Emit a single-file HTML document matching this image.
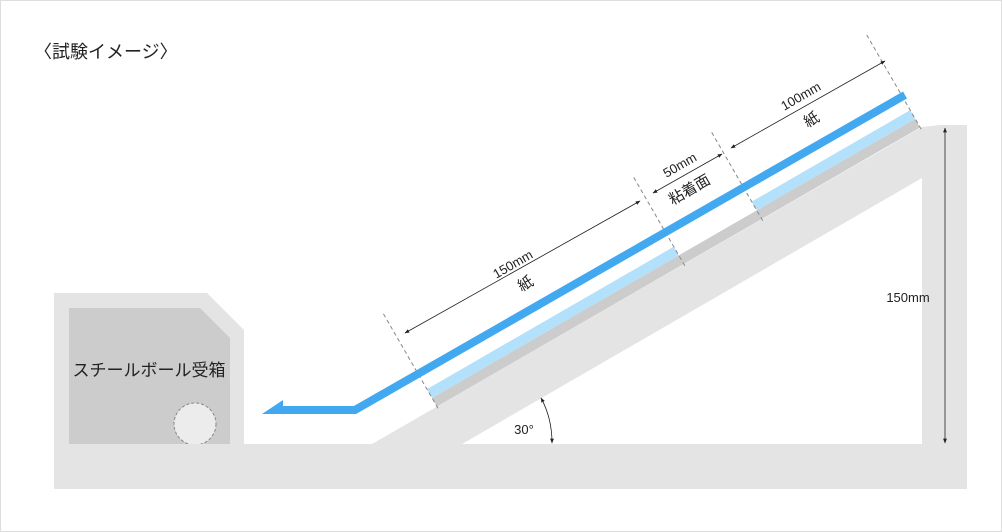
<!DOCTYPE html>
<html><head><meta charset="utf-8"><style>
html,body{margin:0;padding:0;background:#fff;}
svg{display:block;font-family:"Liberation Sans","Noto Sans CJK JP",sans-serif;}
</style></head><body>
<svg width="1002" height="532" viewBox="0 0 1002 532" xmlns="http://www.w3.org/2000/svg">
<defs>
<marker id="a" viewBox="0 0 10 10" refX="9" refY="5" markerWidth="6" markerHeight="6" orient="auto-start-reverse"><path d="M0,1 L10,5 L0,9 z" fill="#222"/></marker>
</defs>
<rect x="0.5" y="0.5" width="1001" height="531" fill="#fff" stroke="#ddd"/>
<text x="34" y="58" font-size="18" fill="#222">〈試験イメージ〉</text>
<!-- box -->
<polygon points="54,293 207,293 244,330 244,444 54,444" fill="#e4e4e4"/>
<polygon points="69,308 200,308 230,338 230,444 69,444" fill="#cccccc"/>
<text x="149" y="376" font-size="17" text-anchor="middle" fill="#222">スチールボール受箱</text>
<circle cx="195" cy="424" r="21" fill="#ececec" stroke="#888" stroke-dasharray="3,2"/>
<!-- base -->
<rect x="54" y="444" width="913" height="45" fill="#e4e4e4"/>
<!-- ramp -->
<polygon points="372,444 922,127 940,125 967,125 967,444" fill="#e4e4e4"/>
<polygon points="462,444 922,178 922,444" fill="#fff"/>
<g transform="translate(372,444) rotate(-30)">
<rect x="75" y="-10" width="558" height="10" fill="#cccccc"/>
<rect x="75" y="-20" width="285" height="10" fill="#b3e0fb"/>
<rect x="450" y="-20" width="183" height="10" fill="#b3e0fb"/>
<g stroke="#888" stroke-width="1" stroke-dasharray="4,3">
<line x1="75" y1="2" x2="75" y2="-108"/>
<line x1="360" y1="2" x2="360" y2="-100"/>
<line x1="450" y1="2" x2="450" y2="-100"/>
<line x1="633" y1="2" x2="633" y2="-108"/>
</g>
</g>
<!-- blue path -->
<polyline points="905,95 355,410 280,410" fill="none" stroke="#42a8f0" stroke-width="8" stroke-linejoin="miter"/>
<polygon points="262,414 283,400 283,414" fill="#42a8f0"/>
<!-- dimension arrows -->
<g stroke="#222" stroke-width="0.8" fill="none">
<line x1="405" y1="333" x2="640" y2="201" marker-start="url(#a)" marker-end="url(#a)"/>
<line x1="653" y1="193" x2="722" y2="154" marker-start="url(#a)" marker-end="url(#a)"/>
<line x1="731" y1="148" x2="885" y2="61" marker-start="url(#a)" marker-end="url(#a)"/>
<line x1="945" y1="128" x2="945" y2="443" marker-start="url(#a)" marker-end="url(#a)"/>
<path d="M541,398 Q552,418 552,443" marker-start="url(#a)" marker-end="url(#a)"/>
</g>
<g font-size="13" fill="#222" text-anchor="middle">
<text transform="translate(515,268) rotate(-30)">150mm</text>
<text transform="translate(528,288) rotate(-30)" font-size="15">紙</text>
<text transform="translate(682,169) rotate(-30)">50mm</text>
<text transform="translate(692,194) rotate(-30)" font-size="15">粘着面</text>
<text transform="translate(803,100) rotate(-30)">100mm</text>
<text transform="translate(814,124) rotate(-30)" font-size="15">紙</text>
<text x="908" y="302">150mm</text>
<text x="524" y="434">30°</text>
</g>
</svg>
</body></html>
